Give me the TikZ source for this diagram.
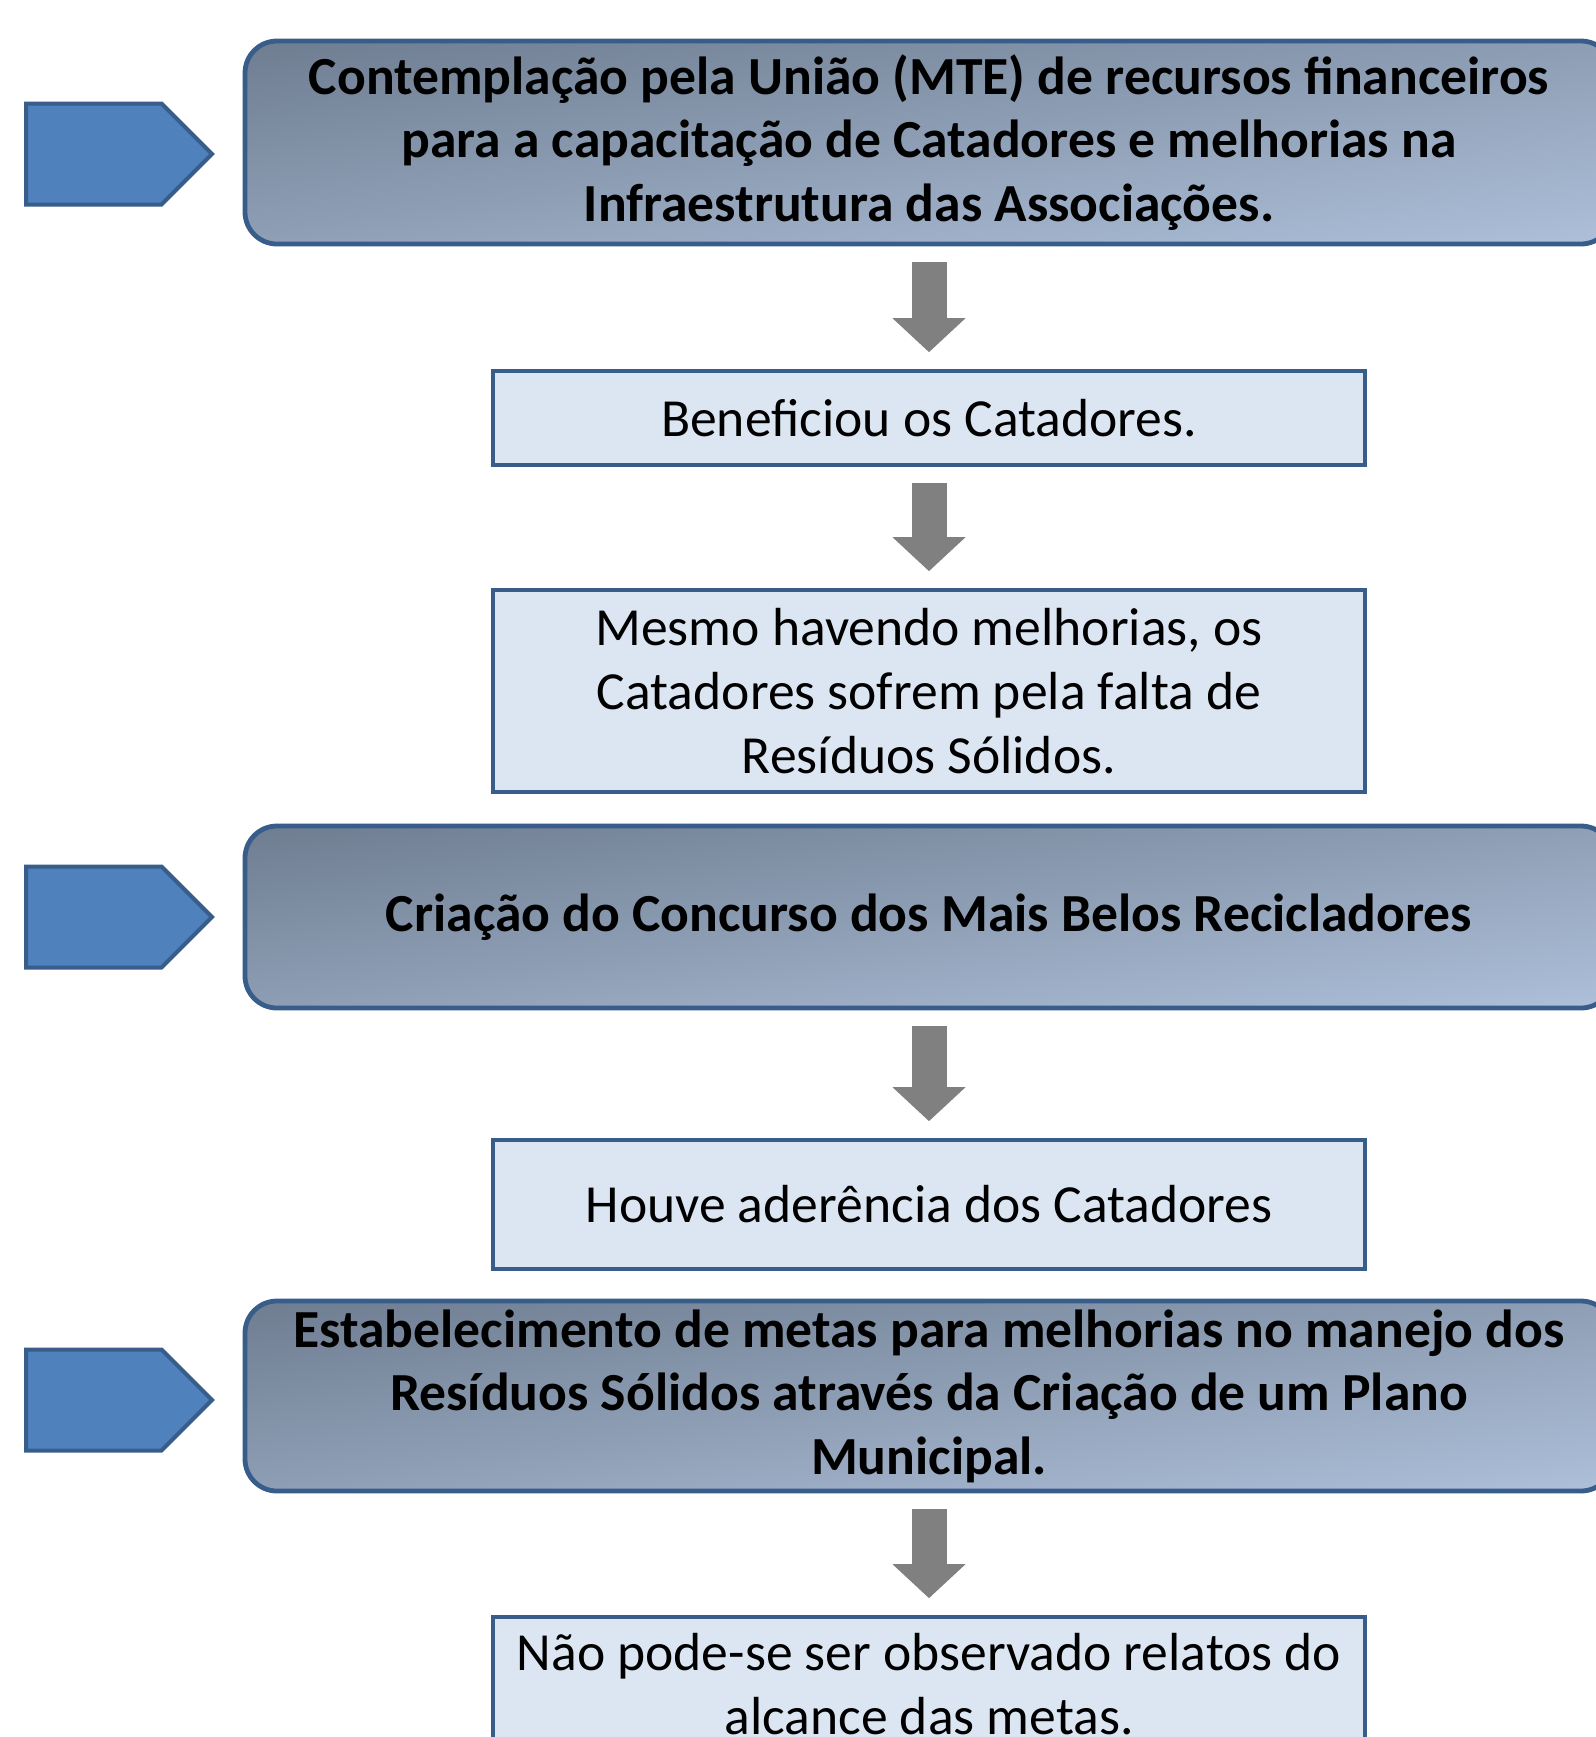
\documentclass[tikz,border=0pt]{standalone}
\usepackage{fontspec}
\setmainfont{Carlito}
\usetikzlibrary{shapes.symbols,arrows.meta}
\definecolor{boxline}{RGB}{56,93,138}
\definecolor{pentfill}{RGB}{79,129,189}
\definecolor{lightfill}{RGB}{220,230,242}
\definecolor{gradtop}{RGB}{86,99,116}
\definecolor{gradbottom}{RGB}{198,218,246}
\definecolor{arrowgray}{RGB}{128,128,128}
\pgfdeclareverticalshading{stagegrad}{100bp}{color(0bp)=(gradbottom); color(100bp)=(gradtop)}

\begin{document}
\begin{tikzpicture}[x=0.5pt,y=-0.5pt]
\tikzstyle{every node}+=[align=center, font=\fontsize{26.8}{31.8}\selectfont]
\tikzstyle{pent}=[signal, signal to=east, signal pointer angle=90, fill=pentfill, draw=boxline, line width=2pt, minimum width=93pt, minimum height=50.5pt, inner sep=0pt, anchor=west]
\tikzstyle{stage}=[rounded corners=16pt, draw=boxline, line width=2.4pt, shade, shading=stagegrad, shading angle=8, minimum width=684pt, font=\fontsize{26.8}{31.8}\selectfont\bfseries]
\tikzstyle{result}=[rectangle, draw=boxline, line width=1.8pt, fill=lightfill, minimum width=436pt]
\tikzstyle{blockarrow}=[arrowgray, line width=17.5pt, shorten <=8pt, shorten >=8.5pt, -{Triangle[width=35.5pt,length=17pt]}]
\useasboundingbox (0,0) rectangle (1596,1737);
\clip (0,0) rectangle (1596,1737);
\fill [white] (0,0) rectangle (1596,1737);
% etapas
\node [pent] (p1) at (24,154) {};
\node [pent] (p2) at (24,917) {};
\node [pent] (p3) at (24,1400) {};
\node [stage, minimum height=101.5pt] (cont) at (929,142.5) {Contemplação pela União (MTE) de recursos financeiros\\para a capacitação de Catadores e melhorias na\\Infraestrutura das Associações.};
\node [result, minimum height=47pt] (benef) at (929,418) {Beneficiou os Catadores.};
\node [result, minimum height=101pt] (mesmo) at (929,691) {Mesmo havendo melhorias, os\\Catadores sofrem pela falta de\\Resíduos Sólidos.};
\node [stage, minimum height=91pt] (criacao) at (929,917) {Criação do Concurso dos Mais Belos Recicladores};
\node [result, minimum height=64.5pt] (houve) at (929,1204.5) {Houve aderência dos Catadores};
\node [stage, minimum height=95pt] (estab) at (929,1396) {Estabelecimento de metas para melhorias no manejo dos\\Resíduos Sólidos através da Criação de um Plano\\Municipal.};
\node [result, minimum height=67pt] (naopode) at (929,1684) {Não pode-se ser observado relatos do\\alcance das metas.};
% setas
\draw [blockarrow] (cont.south) -- (benef.north);
\draw [blockarrow] (benef.south) -- (mesmo.north);
\draw [blockarrow] (criacao.south) -- (houve.north);
\draw [blockarrow] (estab.south) -- (naopode.north);
\end{tikzpicture}
\end{document}
